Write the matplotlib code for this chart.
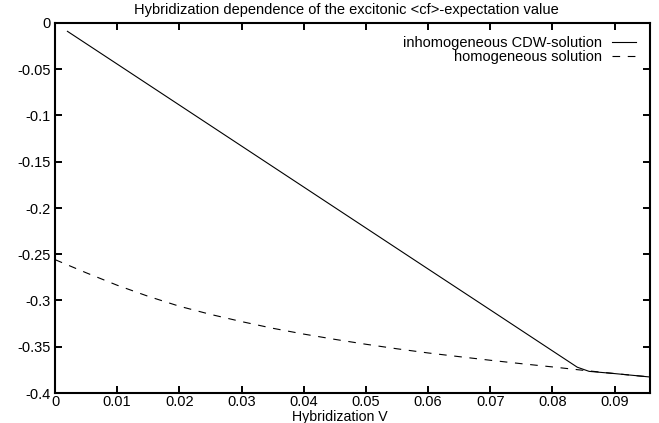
import matplotlib
matplotlib.use("Agg")
import matplotlib.pyplot as plt
from matplotlib.ticker import FixedLocator, FuncFormatter

# ---- data ----
v_cdw = [0.002, 0.01, 0.02, 0.03, 0.04, 0.05, 0.06, 0.07, 0.08, 0.084, 0.0859, 0.09, 0.0957]
cf_cdw = [-0.009, -0.0444, -0.0887, -0.1330, -0.1773, -0.2216, -0.2659, -0.3101, -0.3544,
          -0.3721, -0.3766, -0.3790, -0.3827]

v_hom = [0.0, 0.005, 0.01, 0.015, 0.02, 0.025, 0.03, 0.035, 0.04, 0.045, 0.05, 0.055,
         0.06, 0.065, 0.07, 0.075, 0.08, 0.085, 0.09, 0.0957]
cf_hom = [-0.2558, -0.2700, -0.2835, -0.2955, -0.3062, -0.3150, -0.3228, -0.3300, -0.3363,
          -0.3420, -0.3473, -0.3522, -0.3567, -0.3607, -0.3646, -0.3683, -0.3718, -0.3755,
          -0.3790, -0.3827]

xticks = [0, 0.01, 0.02, 0.03, 0.04, 0.05, 0.06, 0.07, 0.08, 0.09]
yticks = [0, -0.05, -0.1, -0.15, -0.2, -0.25, -0.3, -0.35, -0.4]

title = "Hybridization dependence of the excitonic <cf>-expectation value"
xlabel = "Hybridization V"
label_cdw = "inhomogeneous CDW-solution"
label_hom = "homogeneous solution"

plt.rcParams['font.family'] = ['Liberation Sans', 'DejaVu Sans']
plt.rcParams['axes.unicode_minus'] = False
plt.rcParams['lines.scale_dashes'] = False

W, H = 659, 423
fig = plt.figure(figsize=(W / 100, H / 100), dpi=100)
L, R, T, B = 55, 650, 23, 393
ax = fig.add_axes([L / W, 1 - B / H, (R - L) / W, (B - T) / H])

ax.plot(v_cdw, cf_cdw, color='black', lw=0.8, label=label_cdw)
ax.plot(v_hom, cf_hom, color='black', lw=0.8, dashes=(5.5, 5.5), label=label_hom)

ax.set_xlim(0, 0.0957)
ax.set_ylim(-0.4, 0)
ax.xaxis.set_major_locator(FixedLocator(xticks))
ax.yaxis.set_major_locator(FixedLocator(yticks))
fmt = FuncFormatter(lambda v, p: "%g" % round(v, 4))
ax.xaxis.set_major_formatter(fmt)
ax.yaxis.set_major_formatter(fmt)
ax.tick_params(direction='in', length=5, width=1.4, top=True, right=True,
               labelsize=10.5, pad=3)
ax.tick_params(axis='x', pad=1.5)
for s in ax.spines.values():
    s.set_linewidth(1.5)

ax.set_xlabel(xlabel, fontsize=10.2)
ax.xaxis.set_label_coords(340 / W, 1 - 409.5 / H, transform=fig.transFigure)

fig.text(346 / W, 1 - 10 / H, title, ha='center', va='center', fontsize=10.5)

leg = ax.legend(loc='upper right', bbox_to_anchor=(636 / W, 1 - 36 / H),
                bbox_transform=fig.transFigure, frameon=False, markerfirst=False,
                fontsize=10.5, handlelength=1.65, handletextpad=0.7,
                labelspacing=-0.02, borderpad=0, borderaxespad=0)

fig.savefig("out.png", dpi=100)
